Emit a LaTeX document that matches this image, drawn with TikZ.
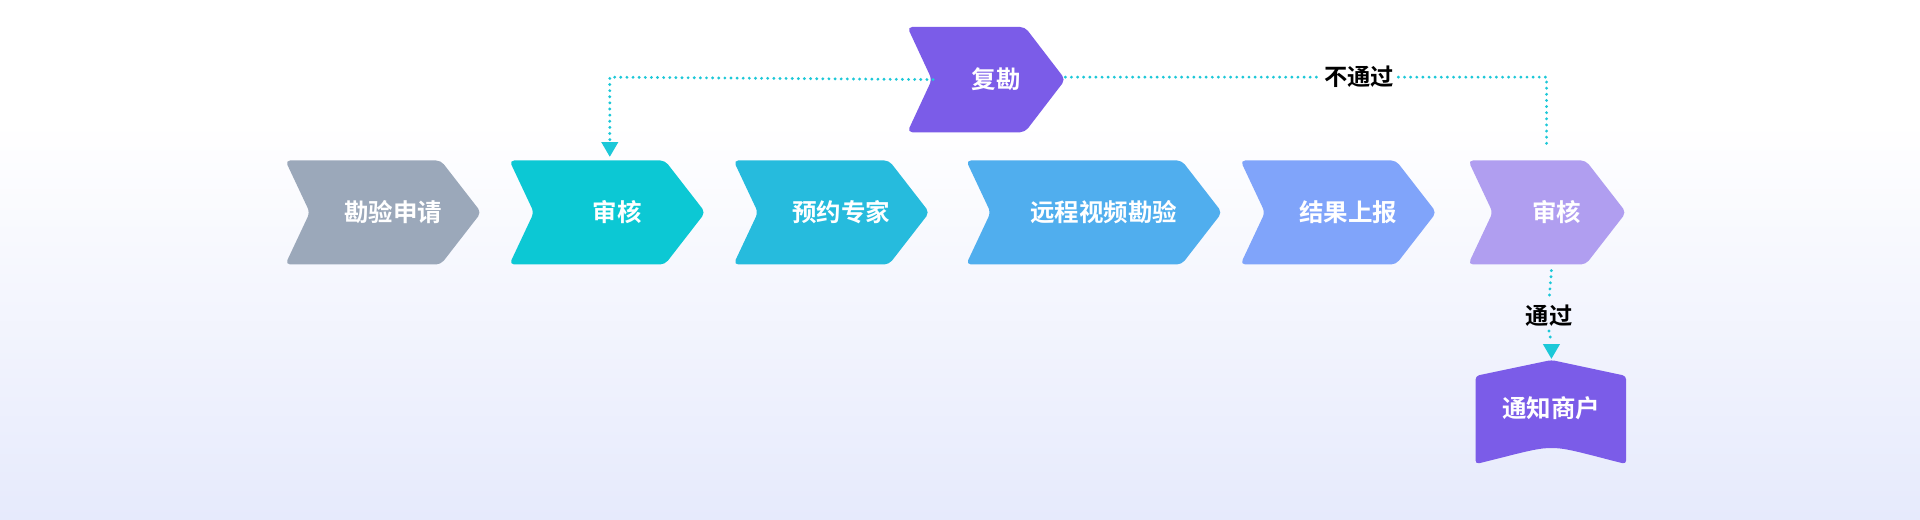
\documentclass[tikz,border=0pt]{standalone}
\usepackage{fontspec}
\setmainfont{Noto Sans CJK SC Bold}
\usetikzlibrary{arrows.meta}
\definecolor{dotc}{HTML}{1CC8D8}
\definecolor{c1}{RGB}{155,168,186}
\definecolor{c2}{RGB}{12,200,212}
\definecolor{c3}{RGB}{38,187,221}
\definecolor{c4}{RGB}{80,174,238}
\definecolor{c5}{RGB}{128,164,250}
\definecolor{c6}{RGB}{176,158,240}
\definecolor{c7}{RGB}{123,92,232}
\definecolor{bgb}{RGB}{230,234,252}
\tikzset{
  lbl/.style={text=white,font=\fontsize{20}{22}\selectfont},
  blk/.style={text=black,font=\fontsize{19}{22}\selectfont},
  dotline/.style={draw=dotc,line width=2.6pt,dash pattern=on 0pt off 5pt,line cap=round}
}
\newcommand{\chev}[7]{%
  \fill[#5,rounded corners=4pt] ({#1},{#3}) -- ({#2-33},{#3}) -- ({#2},{(#3+#4)/2}) -- ({#2-33},{#4}) -- ({#1},{#4}) -- ({#1+20},{(#3+#4)/2}) -- cycle;
  \node[lbl] (#6) at ({(#1+#2)/2+8},{(#3+#4)/2}) {#7};}
\begin{document}
\begin{tikzpicture}[x=1pt,y=-1pt]
\fill[white] (0,0) rectangle (1568,100);
\shade[top color=white,bottom color=bgb] (0,100) rectangle (1568,424);
\useasboundingbox (0,0) rectangle (1568,424);
\chev{233}{393}{131}{216}{c1}{a}{勘验申请}
\chev{416}{576}{131}{216}{c2}{b}{审核}
\chev{599}{759}{131}{216}{c3}{c}{预约专家}
\chev{789}{998}{131}{216}{c4}{d}{远程视频勘验}
\chev{1013}{1173}{131}{216}{c5}{e}{结果上报}
\chev{1199}{1328}{131}{216}{c6}{f}{审核}
\chev{741}{870}{22}{108}{c7}{g}{复勘}
\fill[c7,rounded corners=3pt] (1205,307) -- (1267,294) -- (1328,307) -- (1328,379) .. controls (1300,372) and (1280,366) .. (1267,366) .. controls (1254,366) and (1234,372) .. (1205,379) -- cycle;
\node[lbl] (h) at (1267,333) {通知商户};
\node[blk] (t1) at (1110,63) {不通过};
\node[blk] (t2) at (1265,258) {通过};
\coordinate (p1) at (498,63);
\coordinate (p2) at (1263,63);
\coordinate (p3) at (1263,120);
\coordinate (bt) at (498,128);
\draw[dotline] (g.west) ++(-28,0) -- (p1) -- (498,116);
\fill[dotc] (bt) -- ++(-7,-12) -- ++(14,0) -- cycle;
\draw[dotline] (870,63) -- (t1.west);
\draw[dotline] (t1.east) -- (p2) -- (p3);
\draw[dotline] (1267,221) -- (t2.north);
\draw[dotline] (t2.south) -- (1267,280);
\fill[dotc] (1267,293) -- ++(-7,-12) -- ++(14,0) -- cycle;
\end{tikzpicture}
\end{document}
